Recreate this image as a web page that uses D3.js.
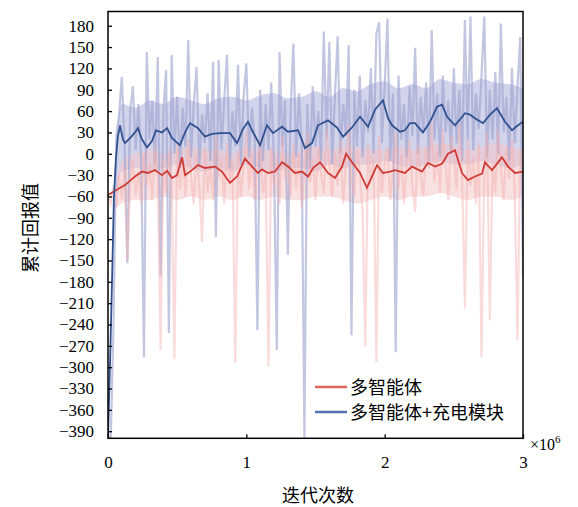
<!DOCTYPE html>
<html><head><meta charset="utf-8">
<script src="https://cdn.jsdelivr.net/npm/d3@7"></script>
<style>body{margin:0;background:#fff}</style>
</head><body>
<svg id="c" width="578" height="507"></svg>
<script>
const seriesNames = ["多智能体", "多智能体+充电模块"];
const xTicks = [0, 1, 2, 3];
const yTicks = [180,150,120,90,60,30,0,-30,-60,-90,-120,-150,-180,-210,-240,-270,-300,-330,-360,-390];
const rawStep = 0.02; // ×10^6 iterations between raw samples
const bandStep = 0.1;

const blueRaw = [-400,-400,-240,25,55,108,10,-154,60,95,5,70,-10,-286,143,20,75,-15,136,-173,
60,118,-252,139,0,80,-20,65,10,160,-5,70,122,-15,55,15,85,-10,129,-117,
132,5,75,139,-20,60,10,125,-15,80,127,-5,65,20,-248,90,-10,70,5,100,
-15,-276,143,10,75,-142,60,155,-5,85,15,-400,70,-20,95,10,60,-10,172,20,
157,-15,80,165,0,70,25,153,-255,90,10,110,-5,75,30,120,0,169,185,15,
95,190,-10,85,-279,110,20,70,-5,95,25,149,0,80,30,100,-10,174,20,85,
-5,110,30,75,0,120,15,90,-10,188,20,193,5,85,35,110,193,-5,90,20,
115,0,183,30,80,-10,120,15,95,164,-173];

const redRaw = [-60,-70,-45,-75,-30,-65,-20,-150,-40,-10,-60,-25,-70,0,-45,-15,-65,10,-35,-276,
-10,-55,5,-40,-288,15,-50,-5,-60,20,-30,-70,0,-45,-124,10,-55,-15,-65,25,
-35,-5,-70,15,-40,-10,-294,5,-60,-20,30,-50,0,-65,-15,20,-55,-25,-299,10,
-45,-5,-70,25,-35,-10,-60,15,-50,0,-75,-20,30,-40,-5,-65,10,-30,-55,35,
-15,-60,0,-45,20,-70,-10,40,-35,-60,5,-25,-80,-271,15,-40,-5,-293,25,-55,
-15,10,-65,-20,30,-50,0,-70,-10,20,-45,-82,15,-30,-60,10,-20,45,-40,5,
-55,35,-15,-65,25,0,-50,40,-30,-217,20,-45,-5,-70,15,-286,-25,30,-234,-10,
-55,35,-20,-65,10,-35,20,-50,-262,5,-30];

// dense envelope of the raw traces, sampled every 0.1 ×10^6
const blueBandLo = [-60,-25,-20,-25,-20,-15,-20,-25,-20,-25,-15,-20,-25,-20,-20,-25,-15,-20,-15,-15,-10,-15,-20,-15,-10,-15,-15,-10,-15,-20,-15];
const blueBandHi = [20,70,65,75,70,80,75,70,78,80,75,82,85,78,80,88,80,92,88,98,102,92,98,92,105,100,98,105,100,98,92];
const redBandLo = [-75,-70,-65,-65,-60,-65,-60,-65,-60,-65,-60,-65,-60,-65,-65,-60,-60,-65,-70,-65,-60,-65,-60,-60,-55,-60,-65,-60,-60,-65,-60];
const redBandHi = [-45,-10,0,5,0,5,10,5,5,0,10,5,5,0,5,10,5,10,10,5,5,10,5,10,15,10,5,10,15,10,5];

const blueSmoothX = [0,0.014,0.029,0.043,0.058,0.072,0.087,0.108,0.123,0.159,0.195,0.217,0.246,0.282,0.318,0.347,0.390,0.427,0.463,0.520,
0.557,0.593,0.651,0.701,0.752,0.810,0.882,0.933,0.976,1.012,1.041,1.099,1.149,1.193,1.258,1.301,1.374,1.424,1.475,1.518,
1.590,1.655,1.699,1.764,1.822,1.880,1.930,1.988,2.024,2.053,2.111,2.147,2.183,2.219,2.277,2.328,2.378,2.415,2.451,2.509,
2.581,2.617,2.668,2.711,2.762,2.812,2.870,2.921,2.964,3.000];
const blueSmoothY = [-398,-300,-180,-60,-5,25,40,20,15,22,30,36,20,9,18,33,30,36,22,12,
30,43,36,24,28,29,29,15,35,45,33,12,40,29,38,31,33,8,15,40,
47,37,24,37,52,38,62,75,50,40,31,33,43,43,30,45,66,69,52,40,
57,55,48,43,55,64,45,33,40,45];

const redSmoothX = [0,0.051,0.123,0.195,0.246,0.289,0.340,0.390,0.427,0.463,0.499,0.535,0.557,0.607,0.651,0.701,0.774,0.824,0.882,0.933,
0.990,1.041,1.084,1.113,1.157,1.207,1.258,1.301,1.352,1.402,1.446,1.482,1.533,1.590,1.641,1.692,1.721,1.764,1.822,1.872,
1.908,1.945,1.988,2.039,2.075,2.147,2.198,2.270,2.313,2.364,2.415,2.458,2.509,2.559,2.602,2.653,2.704,2.725,2.776,2.848,
2.892,2.942,3.000];
const redSmoothY = [-58,-52,-44,-32,-25,-27,-23,-30,-24,-34,-30,-5,-30,-23,-16,-20,-18,-25,-41,-32,
-7,-18,-27,-22,-27,-25,-12,-18,-27,-25,-32,-20,-12,-27,-34,-18,0,-12,-27,-48,
-32,-16,-27,-25,-23,-27,-18,-25,-13,-18,-14,0,5,-27,-37,-32,-28,-12,-23,-5,
-18,-27,-25];

const NUM_FONT = '"Liberation Serif", "Times New Roman", Times, "DejaVu Serif", serif';
const CJK_FONT = '"Noto Sans CJK SC", "Noto Sans CJK JP", sans-serif';

const svg = d3.select("#c");
const L = 108, R = 523, T = 11.5, B = 438.3;
const x = d3.scaleLinear().domain([0, 3]).range([L, R]);
const y = d3.scaleLinear().domain([-400, 200]).range([B, T]);

svg.append("defs").append("clipPath").attr("id","clip")
  .append("rect").attr("x",L).attr("y",T).attr("width",R-L).attr("height",B-T);

const g = svg.append("g").attr("clip-path","url(#clip)");
const line = d3.line().x(d=>x(d[0])).y(d=>y(d[1]));
const bandStart = 0.06;
const area = d3.area().x(d=>x(Math.max(bandStart, d.t))).y0(d=>y(d.lo)).y1(d=>y(d.hi)).curve(d3.curveMonotoneX);
const band = (lo, hi) => lo.map((v,i)=>({t:i*bandStep, lo:v, hi:hi[i]}));

g.append("path").attr("d", area(band(blueBandLo, blueBandHi)))
  .attr("fill","#c3c6e6").attr("fill-opacity",0.75);
g.append("path").attr("d", area(band(redBandLo, redBandHi)))
  .attr("fill","#f6c4c4").attr("fill-opacity",0.5);

const rawPts = arr => arr.map((v,i)=>[i*rawStep, v]);
g.append("path").attr("d", line(rawPts(blueRaw))).attr("fill","none")
  .attr("stroke","#9aa0cd").attr("stroke-opacity",0.6).attr("stroke-width",2.2);
g.append("path").attr("d", line(rawPts(redRaw))).attr("fill","none")
  .attr("stroke","#f3b0b0").attr("stroke-opacity",0.45).attr("stroke-width",2.2);

const smooth = (xs, ys) => xs.map((t,i)=>[t, ys[i]]);
g.append("path").attr("d", line(smooth(redSmoothX, redSmoothY))).attr("fill","none")
  .attr("stroke","#cf3b36").attr("stroke-width",1.8);
g.append("path").attr("d", line(smooth(blueSmoothX, blueSmoothY))).attr("fill","none")
  .attr("stroke","#33518f").attr("stroke-width",1.8);

// frame
svg.append("rect").attr("x",L).attr("y",T).attr("width",R-L).attr("height",B-T)
  .attr("fill","none").attr("stroke","#000").attr("stroke-width",1.5);

// y axis
const yAxis = svg.append("g").attr("transform",`translate(${L},0)`)
  .call(d3.axisLeft(y).tickValues(yTicks).tickSize(-4).tickPadding(14)
    .tickFormat(d => d < 0 ? "\u2212" + Math.abs(d) : String(d)));
yAxis.attr("font-family", NUM_FONT).attr("font-size", 17);
yAxis.select(".domain").remove();
yAxis.selectAll("line").attr("stroke","#000").attr("stroke-width",1.3);
yAxis.selectAll("text").style("font-family", NUM_FONT).style("font-size","17px").attr("fill","#000");

// x axis
const xAxis = svg.append("g").attr("transform",`translate(0,${B})`)
  .call(d3.axisBottom(x).tickValues(xTicks).tickSize(-4).tickPadding(18).tickFormat(d3.format("d")));
xAxis.attr("font-family", NUM_FONT).attr("font-size", 17);
xAxis.select(".domain").remove();
xAxis.selectAll("line").attr("stroke","#000").attr("stroke-width",1.3);
xAxis.selectAll("text").style("font-family", NUM_FONT).style("font-size","17px").attr("fill","#000");

// ×10^6
const ex = svg.append("text").attr("x",530).attr("y",450)
  .style("font-family", NUM_FONT).style("font-size","16px").attr("fill","#000");
ex.append("tspan").text("×10");
ex.append("tspan").attr("dy",-7).style("font-size","11px").text("6");

// axis titles
svg.append("text").attr("x",318).attr("y",502).attr("text-anchor","middle")
  .style("font-family", CJK_FONT).style("font-size","18px").attr("fill","#000").text("迭代次数");
svg.append("text").attr("transform","translate(37,228) rotate(-90)").attr("text-anchor","middle")
  .style("font-family", CJK_FONT).style("font-size","18px").attr("fill","#000").text("累计回报值");

// legend
const legColors = ["#e0655a", "#5270b0"];
const legY = [387, 412];
seriesNames.forEach((n,i)=>{
  svg.append("line").attr("x1",315).attr("x2",347).attr("y1",legY[i]).attr("y2",legY[i])
    .attr("stroke",legColors[i]).attr("stroke-width",2.5);
  svg.append("text").attr("x",350).attr("y",legY[i]+6.5)
    .style("font-family", CJK_FONT).style("font-size","18px").attr("fill","#000").text(n);
});
</script>
</body></html>
